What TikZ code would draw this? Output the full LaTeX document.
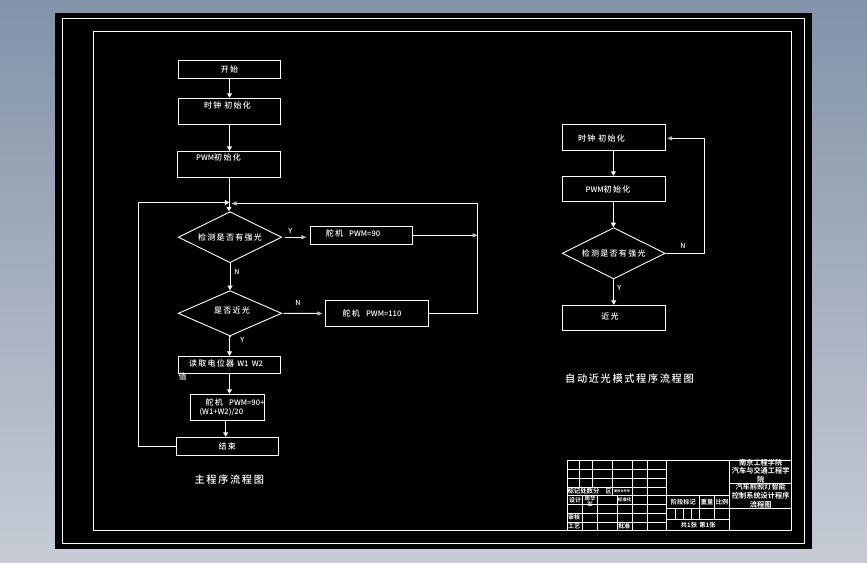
\documentclass[tikz,border=0pt]{standalone}
\usepackage{fontspec}
\usetikzlibrary{arrows.meta,shapes.geometric}
\newfontfamily\cjk[LetterSpace=16]{Noto Sans CJK SC Medium}
\newfontfamily\cjkt{Noto Sans CJK SC Medium}
\newfontfamily\cjkb{Noto Sans CJK SC Bold}
\tikzset{
  pbox/.style={draw=white,line width=1pt,rectangle,inner sep=0pt,text=white,font=\cjk\fontsize{8}{9}\selectfont,align=center},
  pdia/.style={draw=white,line width=.9pt,diamond,aspect=2,inner sep=0pt,text=white,font=\cjk\fontsize{8}{9}\selectfont},
  ptext/.style={inner sep=0pt,text=white,font=\cjk\fontsize{8}{9}\selectfont,align=center},
  ymark/.style={inner sep=0pt,text=white,font=\cjkt\fontsize{7}{8}\selectfont},
  capt/.style={inner sep=0pt,text=white,font=\cjk\fontsize{10.2}{12}\selectfont},
  tb/.style={inner sep=0pt,text=white,font=\cjkb\fontsize{7.2}{9}\selectfont,align=center},
  tbs/.style={inner sep=0pt,text=white,font=\cjkb\fontsize{4.5}{6}\selectfont},
  flow/.style={draw=white,line width=1pt},
  arr/.style={flow,-{Triangle[width=5pt,length=4.5pt,fill=white]}},
  arg/.style={flow,-{Triangle[width=4pt,length=5pt,fill=lightgray,color=lightgray]}},
}
\newcommand{\lat}[1]{{\cjkt\fontsize{7.6}{9}\selectfont #1}}
\begin{document}
\begin{tikzpicture}[x=1pt,y=-1pt]
\useasboundingbox (0,0) rectangle (867,562);
\shade[top color={rgb,255:red,131;green,147;blue,168},bottom color={rgb,255:red,198;green,203;blue,213}] (0,0) rectangle (867,562);
\fill[black] (55,13) rectangle (812,549);
\draw[white,line width=1pt] (62.5,18.5) rectangle (804.7,543);
\draw[white,line width=1pt] (93.5,31.5) rectangle (791.7,530);

% main flow
\node[pbox,minimum width=102.4,minimum height=18] (start) at (229.5,69.3) {开始};
\node[pbox,minimum width=102.4,minimum height=26] (clk) at (229.5,111.3) {};
\node[ptext] (clkT) at (227.5,105) {时钟 初始化};
\node[pbox,minimum width=103.4,minimum height=26] (pwm) at (229,164.3) {};
\node[ptext] (pwmT) at (218.5,157.7) {\lat{PWM}初始化};
\node[pdia,minimum width=103.4,minimum height=51] (d1) at (230,237.2) {检测是否有强光};
\node[pbox,minimum width=102.4,minimum height=18] (b90) at (361.5,235.3) {};
\node[ptext] (b90T) at (353,233.5) {舵机 \ \lat{PWM=90}};
\node[pdia,minimum width=103.4,minimum height=45.3] (d2) at (230,313.3) {};
\node[ptext] (d2T) at (232,310.3) {是否近光};
\node[pbox,minimum width=103.4,minimum height=26.4] (b110) at (377,313.5) {};
\node[ptext] (b110T) at (372,313) {舵机 \ \lat{PWM=110}};
\node[pbox,minimum width=102.4,minimum height=17.4] (read) at (229.5,365) {};
\node[ptext] (readT) at (226,363) {读取电位器 \lat{W1 \ W2}};
\node[ptext] (readV) at (182.5,376.7) {值};
\node[pbox,minimum width=74.4,minimum height=26] (b4) at (227.5,407.3) {};
\node[ptext,align=left] (b4T) at (232,407.5) {\ \ 舵机 \ \lat{PWM=90+}\\\lat{(W1+W2)/20}};
\node[pbox,minimum width=102,minimum height=18] (fin) at (227.3,446.3) {结束};
\node[capt] (cap1) at (229.3,479.7) {主程序流程图};

\coordinate (J) at (229.3,202.5);
\coordinate (JL) at (138.3,202.5);
\coordinate (JR) at (477.7,203.5);
\coordinate (JRin) at (231.5,203.5);
\coordinate (RM) at (477.7,235.3);

\draw[arr] (start.south) -- (clk.north);
\draw[arr] (clk.south) -- (clk.south |- pwm.north);
\draw[arr] (pwm.south) -- (pwm.south |- d1.north);
\draw[arr] (d1.south) -- (d2.north);
\draw[arr] (d2.south) -- (d2.south -| read.north) -- (read.north);
\draw[arr] (read.south) -- (read.south |- b4.north);
\draw[arr] ([xshift=-1.8]b4.south) -- ([xshift=-1.8]b4.south |- fin.north);
\draw[arg,shorten <=3pt,shorten >=3.5pt] (d1.east) -- (d1.east -| b90.west);
\draw[arg,shorten <=1.5pt,shorten >=2.5pt] (d2.east) -- (b110.west);
\draw[arg] (b90.east) -- (RM);
\draw[flow] (b110.east) -| (JR);
\draw[arg] (JR) -- (JRin);
\draw[flow] (fin.west) -| (JL);
\draw[arr] (JL) -- (J);

\node[ymark] (y1) at (290.3,231) {Y};
\node[ymark] (n1) at (237,272.3) {N};
\node[ymark] (n2) at (298,303) {N};
\node[ymark] (y2) at (242.3,340) {Y};

% auto low-beam flow
\node[pbox,minimum width=103.4,minimum height=26] (rclk) at (614,137.3) {};
\node[ptext] (rclkT) at (601.5,138) {时钟 初始化};
\node[pbox,minimum width=103.4,minimum height=25] (rpwm) at (614,188.8) {};
\node[ptext] (rpwmT) at (608,189) {\lat{PWM}初始化};
\node[pdia,minimum width=103,minimum height=51.3] (rd) at (613.7,253.3) {检测是否有强光};
\node[pbox,minimum width=103.4,minimum height=25] (near) at (614,317.8) {};
\node[ptext] (nearT) at (610,316) {近光};
\node[capt] (cap2) at (629.5,378.3) {自动近光模式程序流程图};
\coordinate (RT) at (704.7,253.3);
\coordinate (RB) at (704.7,138.3);

\draw[arr] ([xshift=-.6]rclk.south) -- ([xshift=-.6]rpwm.north);
\draw[arr] ([xshift=-.6]rpwm.south) -- ([xshift=-.3]rd.north);
\draw[arr] (rd.south) -- (rd.south |- near.north);
\draw[flow] (rd.east) -- (RT) -- (RB);
\draw[arg,shorten >=1pt] (RB) -- (RB -| rclk.east);
\node[ymark] (ny) at (683,246) {N};
\node[ymark] (yy) at (619.3,288) {Y};

% title block
\draw[white,line width=1pt]
  (567.3,460.3) rectangle (791.7,530)
  (567.3,469.3) -- (666.3,469.3)
  (567.3,478.3) -- (666.3,478.3)
  (567.3,487.3) -- (666.3,487.3)
  (567.3,495.3) -- (729.5,495.3)
  (567.3,504.3) -- (666.3,504.3)
  (567.3,513.3) -- (666.3,513.3)
  (567.3,522.3) -- (666.3,522.3)
  (579.3,460.3) -- (579.3,487.3)
  (592.3,460.3) -- (592.3,487.3)
  (612.3,460.3) -- (612.3,495.3)
  (582.3,495.3) -- (582.3,530)
  (597.3,495.3) -- (597.3,530)
  (617.3,495.3) -- (617.3,530)
  (632.3,460.3) -- (632.3,530)
  (647.3,460.3) -- (647.3,530)
  (666.3,460.3) -- (666.3,530)
  (729.5,460.3) -- (729.5,530)
  (729.5,483.3) -- (791.7,483.3)
  (666.3,508.3) -- (791.7,508.3)
  (666.3,519.3) -- (729.5,519.3)
  (675.3,508.3) -- (675.3,519.3)
  (683.3,508.3) -- (683.3,519.3)
  (691.3,508.3) -- (691.3,519.3)
  (699.3,495.3) -- (699.3,519.3)
  (714.3,495.3) -- (714.3,519.3);
\node[tb,font=\cjkb\fontsize{6.4}{7}\selectfont] (t1) at (583.5,491.3) {标记处数分};
\node[tb,font=\cjkb\fontsize{5.8}{7}\selectfont] (t2) at (608.5,491.3) {区};
\node[tbs,font=\cjkb\fontsize{3.2}{4}\selectfont] (t3) at (622,491.3) {更改文件号};
\node[tb,font=\cjkb\fontsize{6}{7}\selectfont] (t4) at (575,500.5) {设计};
\node[tb,font=\cjkb\fontsize{5.4}{6.5}\selectfont] (t5) at (590,501.5) {周华\\军};
\node[tbs] (t6) at (624.5,499.3) {标准化};
\node[tb,font=\cjkb\fontsize{6}{7}\selectfont] (t7) at (574,516.7) {审核};
\node[tb,font=\cjkb\fontsize{6}{7}\selectfont] (t8) at (574,525.8) {工艺};
\node[tb,font=\cjkb\fontsize{6}{7}\selectfont] (t9) at (624,525.8) {批准};
\node[tb,font=\cjkb\fontsize{6.2}{7}\selectfont] (t10) at (683.3,501.7) {阶段标记};
\node[tb,font=\cjkb\fontsize{6.2}{7}\selectfont] (t11) at (707,501.7) {重量};
\node[tb,font=\cjkb\fontsize{6.2}{7}\selectfont] (t12) at (722,501.7) {比例};
\node[tb,font=\cjkb\fontsize{6.2}{7}\selectfont] (t13) at (698.2,525) {共1张 \,第1张};
\node[tb] (t14) at (760.7,471.3) {南京工程学院\\[-.4pt]汽车与交通工程学\\院};
\node[tb] (t15) at (760.7,495.8) {汽车前照灯智能\\控制系统设计程序\\流程图};
\end{tikzpicture}
\end{document}
